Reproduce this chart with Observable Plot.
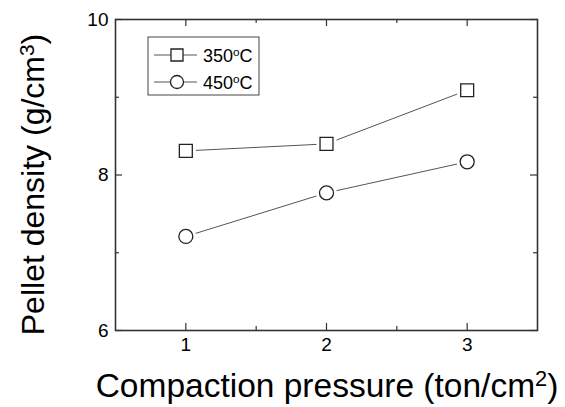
<!DOCTYPE html>
<html>
<head>
<meta charset="utf-8">
<script src="https://cdn.jsdelivr.net/npm/d3@7"></script>
<script src="https://cdn.jsdelivr.net/npm/@observablehq/plot@0.6"></script>
<style>
  html, body { margin: 0; padding: 0; background: white; }
</style>
</head>
<body>
<div id="chart"></div>
<script>
const pressure = [1, 2, 3];
const density350 = [8.31, 8.40, 9.09];
const density450 = [7.21, 7.77, 8.17];
const seriesNames = ["350°C", "450°C"];
const seriesParts = [["350", "o", "C"], ["450", "o", "C"]];
const xMajor = [1, 2, 3];
const xMinor = [1.5, 2.5];
const yMajor = [6, 8, 10];
const yMinor = [7, 9];
const xLabelParts = ["Compaction pressure (ton/cm", "2", ")"];
const yLabelParts = ["Pellet density (g/cm", "3", ")"];

const W = 565, H = 407;
const mL = 115, mR = 28, mT = 19, mB = 77;
const fw = W - mL - mR, fh = H - mT - mB;
const font = "'Liberation Sans', Arial, Helvetica, sans-serif";

const rows = [];
pressure.forEach((p, i) => {
  rows.push({series: seriesNames[0], x: p, y: density350[i]});
  rows.push({series: seriesNames[1], x: p, y: density450[i]});
});
const sym = {"350°C": "square", "450°C": "circle"};
const rad = {"350°C": 7.3, "450°C": 7};

const tickColor = "#333";
const marks = [
  // inward ticks (bottom/top/left/right)
  Plot.ruleX(xMajor, {x: d => d, stroke: tickColor, strokeWidth: 1.2, insetTop: fh - 7}),
  Plot.ruleX(xMinor, {x: d => d, stroke: tickColor, strokeWidth: 1.2, insetTop: fh - 4}),
  Plot.ruleX(xMajor, {x: d => d, stroke: tickColor, strokeWidth: 1.2, insetBottom: fh - 7}),
  Plot.ruleX(xMinor, {x: d => d, stroke: tickColor, strokeWidth: 1.2, insetBottom: fh - 4}),
  Plot.ruleY(yMajor, {y: d => d, stroke: tickColor, strokeWidth: 1.2, insetRight: fw - 7}),
  Plot.ruleY(yMinor, {y: d => d, stroke: tickColor, strokeWidth: 1.2, insetRight: fw - 4}),
  Plot.ruleY(yMajor, {y: d => d, stroke: tickColor, strokeWidth: 1.2, insetLeft: fw - 7}),
  Plot.ruleY(yMinor, {y: d => d, stroke: tickColor, strokeWidth: 1.2, insetLeft: fw - 4}),
  Plot.frame({stroke: tickColor, strokeWidth: 1.6}),
  // tick labels
  Plot.axisX({ticks: xMajor, tickSize: 0, tickPadding: 7, fontSize: 19, tickFormat: d => String(d), label: null}),
  Plot.axisY({ticks: yMajor, tickSize: 0, tickPadding: 7, fontSize: 19, tickFormat: d => String(d), label: null}),
  // series lines
  Plot.line(rows, {x: "x", y: "y", z: "series", stroke: "#555", strokeWidth: 1}),
  // halo for gaps
  Plot.dot(rows, {x: "x", y: "y", symbol: d => sym[d.series], r: d => rad[d.series], fill: "white", stroke: "white", strokeWidth: 7}),
  Plot.dot(rows, {x: "x", y: "y", symbol: d => sym[d.series], r: d => rad[d.series], fill: "white", stroke: "#222", strokeWidth: 1.3})
];

const chart = Plot.plot({
  width: W, height: H,
  marginLeft: mL, marginRight: mR, marginTop: mT, marginBottom: mB,
  x: {domain: [0.5, 3.5]},
  y: {domain: [6, 10]},
  r: {type: "identity"},
  symbol: {type: "identity"},
  style: {fontFamily: font, fontSize: "19px", color: "black", background: "white", overflow: "visible"},
  marks
});
document.getElementById("chart").appendChild(chart);

const svg = d3.select(chart);

function supText(sel, parts) {
  sel.append("tspan").text(parts[0]);
  sel.append("tspan").attr("font-size", "0.65em").attr("dy", "-0.5em").text(parts[1]);
  sel.append("tspan").attr("dy", "0.325em").text(parts[2]);
}

// axis titles
const xt = svg.append("text").attr("x", mL + fw / 2 + 1).attr("y", 397)
  .attr("text-anchor", "middle").attr("font-size", 33.5).attr("fill", "black")
  .style("font-family", font);
supText(xt, xLabelParts);
const yt = svg.append("text").attr("transform", `translate(44,${mT + fh / 2 + 10}) rotate(-90)`)
  .attr("text-anchor", "middle").attr("font-size", 32).attr("fill", "black")
  .style("font-family", font);
supText(yt, yLabelParts);

// legend box inside the frame
const lg = svg.append("g").attr("transform", `translate(${mL + 33},${mT + 18})`)
  .style("font-family", font);
lg.append("rect").attr("x", 0).attr("y", 0).attr("width", 111).attr("height", 58)
  .attr("fill", "white").attr("stroke", "#444").attr("stroke-width", 1);
seriesNames.forEach((name, i) => {
  const cy = 18 + i * 27;
  lg.append("line").attr("x1", 6).attr("x2", 49).attr("y1", cy).attr("y2", cy)
    .attr("stroke", "#555").attr("stroke-width", 1);
  const s = sym[name] === "square" ? d3.symbolSquare : d3.symbolCircle;
  const size = sym[name] === "square" ? 12 * 12 : Math.PI * 6.5 * 6.5;
  lg.append("path").attr("d", d3.symbol(s, size)()).attr("transform", `translate(29,${cy})`)
    .attr("fill", "white").attr("stroke", "#222").attr("stroke-width", 1.3);
  const t = lg.append("text").attr("x", 55).attr("y", cy + 6.5)
    .attr("text-anchor", "start").attr("font-size", 18).attr("fill", "black");
  supText(t, seriesParts[i]);
});
</script>
</body>
</html>
